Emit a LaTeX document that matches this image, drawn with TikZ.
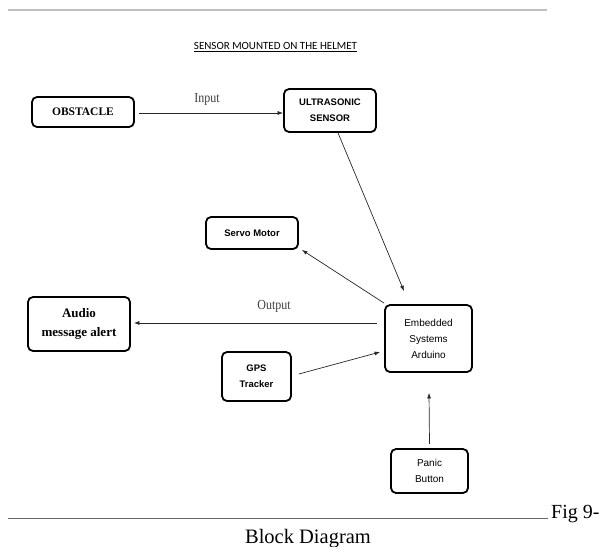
\documentclass[tikz,border=0pt]{standalone}
\usepackage{fontspec}
\setmainfont{Liberation Serif}
\newfontfamily\arialf{Liberation Sans}
\newfontfamily\carlf{Carlito}
\usetikzlibrary{arrows.meta}
\begin{document}
\begin{tikzpicture}[x=1pt,y=-1pt,
  blk/.style={draw=black, line width=1.8pt, rounded corners=5pt, inner sep=0pt, align=center},
  sansb/.style={font=\arialf\bfseries\fontsize{9.5}{16}\selectfont},
  sansr/.style={font=\arialf\fontsize{10}{16}\selectfont},
  serifb/.style={font=\bfseries\fontsize{11.5}{19}\selectfont},
  conn/.style={-{Latex[length=5.5pt,width=4pt]}, line width=0.7pt, draw=black!85},
  lbl/.style={font=\fontsize{12}{14}\selectfont, text=black!75, inner sep=0pt, yscale=1.15},
]
\useasboundingbox (0,0) rectangle (604,546);
\draw[line width=1.5pt, black!25] (8,10) -- (547,10);

\node[inner sep=0pt, font=\carlf\fontsize{11}{13}\selectfont] (title) at (275.5,47) {\underline{SENSOR MOUNTED ON THE HELMET}};

\node[blk, serifb, minimum width=102pt, minimum height=30pt] (obstacle) at (83,112) {OBSTACLE};
\node[blk, sansb, minimum width=92pt, minimum height=43pt] (ultra) at (330,110.5) {ULTRASONIC\\SENSOR};
\node[blk, sansb, minimum width=92pt, minimum height=32pt] (servo) at (252,233) {Servo Motor};
\node[blk, font=\bfseries\fontsize{13}{19}\selectfont, minimum width=102pt, minimum height=54pt] (audio) at (79,324) {Audio\\message alert};
\node[blk, sansr, minimum width=87pt, minimum height=67pt] (embedded) at (428.5,338.5) {Embedded\\Systems\\Arduino};
\node[blk, sansb, minimum width=69pt, minimum height=49pt] (gps) at (256.5,376.5) {GPS\\Tracker};
\node[blk, sansr, minimum width=77pt, minimum height=44pt] (panic) at (429.5,471) {Panic\\Button};

\draw[conn] ([shift={(4,1)}]obstacle.east) -- ([shift={(0,2.5)}]ultra.west);
\draw[conn] ([shift={(8,0)}]ultra.south) -- ([shift={(-24.5,-13)}]embedded.north);
\draw[conn] ([shift={(0,-1)}]embedded.north west) -- ([shift={(3,0)}]servo.south east);
\draw[conn] ([shift={(-7,-15.5)}]embedded.west) -- ([shift={(3,-1)}]audio.east);
\draw[conn] ([shift={(7,-2.5)}]gps.east) -- ([shift={(-4,13.5)}]embedded.west);
\draw[conn] ([shift={(0,-4)}]panic.north) -- ([shift={(0.5,20)}]embedded.south);

\node[lbl] (input) at (207,99) {Input};
\node[lbl] (output) at (274,306) {Output};

\draw[line width=0.9pt, black!60] (8,518) -- (548,518);
\node[anchor=base west, inner sep=0pt, font=\fontsize{20}{24}\selectfont] (fig) at (551,518) {Fig 9-};
\node[anchor=base, inner sep=0pt, font=\fontsize{20.5}{24}\selectfont] (cap) at (308,543) {Block Diagram};
\end{tikzpicture}
\end{document}
